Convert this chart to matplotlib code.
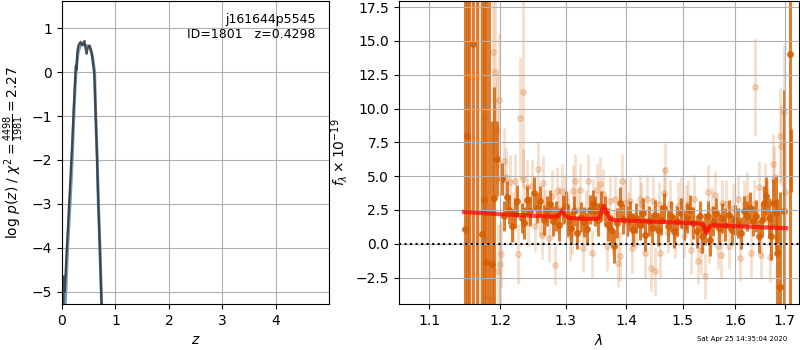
import matplotlib
matplotlib.use('Agg')
import matplotlib.pyplot as plt

# p(z) curve (left panel)
z_pz = [0.00, 0.02, 0.03, 0.04, 0.05, 0.07, 0.09, 0.11, 0.13, 0.15, 0.17, 0.19, 0.21, 0.23,
        0.25, 0.26, 0.27, 0.29, 0.31, 0.33, 0.35, 0.37, 0.39, 0.40, 0.42, 0.44, 0.46, 0.48,
        0.50, 0.52, 0.54, 0.56, 0.58, 0.60, 0.61, 0.63, 0.65, 0.67, 0.69, 0.71, 0.73, 0.75]
logp = [-6.5, -6.0, -4.65, -4.7, -5.0, -4.5, -4.0, -3.55, -3.05, -2.6, -2.1, -1.65, -1.1, -0.55,
        -0.05, 0.15, 0.05, 0.5, 0.62, 0.66, 0.69, 0.62, 0.66, 0.64, 0.71, 0.54, 0.42, 0.55,
        0.58, 0.6, 0.5, 0.42, 0.2, 0.0, -0.2, -0.95, -1.75, -2.6, -3.35, -4.1, -4.9, -5.7]
z_smooth = [0.04, 0.07, 0.10, 0.15, 0.19, 0.22, 0.26, 0.30, 0.34, 0.38, 0.42, 0.46, 0.50,
            0.54, 0.58, 0.61, 0.63, 0.66, 0.68, 0.71, 0.74, 0.76]
logp_smooth = [-5.8, -5.0, -4.1, -3.0, -2.0, -1.0, 0.0, 0.45, 0.6, 0.62, 0.62, 0.6, 0.6,
               0.5, 0.28, 0.0, -1.0, -2.0, -3.0, -4.0, -5.27, -6.0]

# spectrum, first beam (strong)
wave_a = [1.1490, 1.1525, 1.1555, 1.1607, 1.1660, 1.1728, 1.1765, 1.1790, 1.1840, 1.1880,
          1.1905, 1.1946, 1.2031, 1.2054, 1.2103, 1.2127, 1.2175, 1.2220, 1.2255, 1.2318,
          1.2350, 1.2398, 1.2445, 1.2508, 1.2556, 1.2605, 1.2655, 1.2703, 1.2752, 1.2802,
          1.2851, 1.2900, 1.2951, 1.3000, 1.3036, 1.3087, 1.3137, 1.3188, 1.3240, 1.3290,
          1.3340, 1.3390, 1.3445, 1.3480, 1.3530, 1.3580, 1.3640, 1.3690, 1.3740, 1.3790,
          1.3840, 1.3890, 1.3950, 1.4007, 1.4064, 1.4120, 1.4177, 1.4235, 1.4290, 1.4330,
          1.4390, 1.4445, 1.4500, 1.4560, 1.4617, 1.4670, 1.4730, 1.4790, 1.4847, 1.4905,
          1.4964, 1.5022, 1.5080, 1.5140, 1.5200, 1.5260, 1.5320, 1.5365, 1.5425, 1.5470,
          1.5510, 1.5570, 1.5630, 1.5690, 1.5750, 1.5810, 1.5870, 1.5930, 1.5990, 1.6050,
          1.6110, 1.6170, 1.6230, 1.6290, 1.6355, 1.6415, 1.6480, 1.6540, 1.6570, 1.6620,
          1.6670, 1.6720, 1.6760, 1.6810, 1.6850, 1.6900, 1.6985, 1.7105]
flux_a = [1.1, 8.0, -7.0, 14.8, -8.0, 0.7, 3.2, -1.35, -9.0, -1.5,
          3.4, 6.3, 4.8, 2.03, 3.47, 2.53, 1.34, 2.28, 3.15, 1.90,
          1.54, 3.20, 2.40, 3.77, 2.65, 3.15, 1.78, 2.40, 2.90, 1.66,
          2.03, 1.41, 2.53, 2.82, 1.66, 1.16, 2.40, 0.79, 1.98, 1.58,
          1.09, 2.53, 2.90, 2.40, 1.78, 2.78, 2.40, 1.41, 1.04, -0.20,
          1.54, 3.00, 1.80, 1.66, 2.03, 1.04, 1.90, 1.41, 2.28, 0.67,
          1.66, 1.16, 2.15, 1.04, 1.78, 2.65, 1.29, 2.03, 0.91, 1.66,
          2.28, 1.34, 1.90, 2.53, 1.54, 0.91, 2.03, 0.54, 1.09, 2.03,
          0.29, 1.66, 2.28, 1.16, 1.90, 1.41, 2.15, 1.04, 1.78, 1.54,
          0.79, 2.40, 2.03, 2.65, 1.66, 2.03, 0.54, 1.78, 3.00, 3.50,
          1.90, 0.60, 3.00, 2.30, -0.70, -3.20, 2.40, 14.0]
err_a = [30, 30, 30, 30, 30, 30, 30, 30, 30, 10.6,
         8.2, 2.8, 1.2, 1.1, 1.2, 1.1, 1.2, 1.1, 1.2, 1.1,
         1.2, 1.1, 1.1, 1.2, 1.1, 1.1, 1.1, 1.1, 1.1, 1.1,
         1.1, 1.2, 1.1, 1.1, 1.1, 1.2, 1.1, 1.2, 1.1, 1.1,
         1.2, 1.1, 1.1, 1.1, 1.2, 1.1, 1.1, 1.2, 1.1, 1.2,
         1.1, 1.2, 1.1, 1.1, 1.1, 1.2, 1.1, 1.1, 1.1, 1.2,
         1.1, 1.1, 1.1, 1.2, 1.1, 1.1, 1.2, 1.1, 1.2, 1.1,
         1.1, 1.1, 1.1, 1.1, 1.2, 1.2, 1.1, 1.2, 1.2, 1.1,
         1.2, 1.1, 1.1, 1.1, 1.1, 1.2, 1.1, 1.1, 1.1, 1.1,
         1.2, 1.1, 1.1, 1.2, 1.1, 1.2, 1.2, 1.3, 1.3, 1.4,
         1.5, 1.8, 1.8, 2.8, 4.0, 7.0, 9.0, 25.0]

# last strong-beam bar, drawn without its marker
edge_wave = [1.7135]
edge_flux = [6.15]
edge_err = [2.35]

# spectrum, second beam (faint)
wave_b = [1.1560, 1.1690, 1.1780, 1.1840, 1.1895, 1.1925, 1.1950, 1.1965, 1.1975, 1.1990,
          1.2010, 1.2060, 1.2085, 1.2144, 1.2190, 1.2217, 1.2257, 1.2298, 1.2331, 1.2342,
          1.2392, 1.2416, 1.2477, 1.2519, 1.2561, 1.2600, 1.2622, 1.2647, 1.2674, 1.2741,
          1.2779, 1.2830, 1.2857, 1.2900, 1.2936, 1.2989, 1.3030, 1.3068, 1.3096, 1.3122,
          1.3149, 1.3190, 1.3230, 1.3283, 1.3320, 1.3365, 1.3421, 1.3447, 1.3503, 1.3558,
          1.3612, 1.3669, 1.3725, 1.3770, 1.3809, 1.3860, 1.3894, 1.3923, 1.3979, 1.4030,
          1.4060, 1.4100, 1.4170, 1.4235, 1.4260, 1.4330, 1.4370, 1.4430, 1.4460, 1.4510,
          1.4570, 1.4600, 1.4660, 1.4690, 1.4740, 1.4780, 1.4860, 1.4915, 1.4970, 1.5020,
          1.5070, 1.5110, 1.5160, 1.5220, 1.5280, 1.5350, 1.5425, 1.5470, 1.5500, 1.5550,
          1.5610, 1.5670, 1.5730, 1.5750, 1.5820, 1.5880, 1.5960, 1.6050, 1.6090, 1.6170,
          1.6230, 1.6310, 1.6380, 1.6390, 1.6480, 1.6510, 1.6600, 1.6640, 1.6700, 1.6750,
          1.6780, 1.6840, 1.6880, 1.6900, 1.6930, 1.6985, 1.7000]
flux_b = [-5.0, 20.0, 9.3, -4.0, 14.2, 12.7, 8.4, -2.05, 10.6, -1.5,
          -0.75, 6.1, 4.9, 4.56, 2.0, 4.65, -0.76, 9.3, 4.8, 11.2,
          4.2, 1.66, 4.3, 1.29, 5.55, 2.2, 0.67, 4.5, 2.28, 0.42,
          3.52, -1.56, 3.89, 2.6, 3.89, 3.27, 2.2, 0.54, 0.92, 3.89,
          4.63, 2.5, 4.0, -0.32, 2.4, 4.63, -0.69, 3.07, 4.0, 4.38,
          3.64, -0.2, 3.15, 0.9, 3.27, -1.4, -0.94, 4.63, 3.0, 2.2,
          3.15, -0.33, 1.3, 3.3, 2.9, -0.7, 3.3, -1.8, 3.15, -2.05,
          2.9, -0.7, 3.77, 5.43, 0.9, 2.9, 0.67, 2.78, 3.15, 0.6,
          2.65, 2.9, -0.45, 3.3, -1.3, -0.45, -2.4, 3.84, 0.29, 2.53,
          3.6, -0.2, -0.82, 3.0, 2.9, -0.2, 2.65, 3.3, -1.07, 2.9,
          3.4, -0.7, 2.9, 11.58, 4.2, -0.82, 4.0, 2.9, -0.95, 5.93,
          4.75, 0.5, -3.2, 7.98, 7.24, 9.73, 3.8]
err_b = [25, 25, 12, 6.0, 8.0, 6.0, 4.0, 3.5, 5.0, 3.0,
         2.5, 2.5, 2.2, 2.0, 1.8, 2.0, 2.2, 4.5, 2.2, 7.0,
         2.0, 1.8, 2.0, 1.8, 2.0, 1.6, 1.8, 2.0, 1.7, 1.8,
         1.9, 1.5, 1.8, 1.7, 2.0, 1.8, 1.6, 1.8, 1.7, 1.9,
         2.0, 1.6, 1.9, 1.8, 1.6, 2.0, 1.8, 1.7, 1.9, 2.0,
         1.9, 1.8, 1.8, 1.7, 1.8, 1.8, 1.8, 2.0, 1.8, 1.6,
         1.8, 1.8, 1.6, 1.8, 1.7, 1.8, 1.8, 1.7, 1.8, 1.8,
         1.7, 1.8, 1.9, 2.0, 1.6, 1.8, 1.7, 1.8, 1.8, 1.6,
         1.7, 1.8, 1.8, 1.8, 1.7, 1.8, 1.7, 2.0, 1.7, 1.7,
         1.8, 1.7, 1.8, 1.7, 1.8, 1.7, 1.8, 1.8, 1.7, 1.8,
         1.9, 1.8, 1.8, 3.6, 1.9, 1.8, 2.0, 1.8, 1.9, 2.2,
         2.5, 2.8, 3.0, 3.5, 3.0, 5.0, 3.5]

# best-fit model
model_wave = [1.148, 1.20, 1.25, 1.285, 1.290, 1.294, 1.298, 1.305, 1.32, 1.35, 1.355,
              1.359, 1.362, 1.366, 1.372, 1.38, 1.42, 1.46, 1.50, 1.53, 1.539, 1.542,
              1.545, 1.548, 1.552, 1.56, 1.60, 1.65, 1.703]
model_flux = [2.35, 2.18, 2.06, 2.0, 2.15, 2.38, 2.15, 1.92, 1.86, 1.83, 1.95,
              2.5, 2.78, 2.4, 1.85, 1.75, 1.68, 1.62, 1.55, 1.5, 1.42, 1.05,
              0.78, 1.05, 1.35, 1.36, 1.3, 1.22, 1.15]

g141_color = (0.835, 0.369, 0.0)

fig = plt.figure(figsize=(8, 3.5), dpi=100)
ax1 = fig.add_axes([0.0775, 0.1314, 0.3334, 0.8657])
ax2 = fig.add_axes([0.49875, 0.1314, 0.5, 0.8657])

# left: redshift PDF
ax1.plot(z_smooth, logp_smooth, color='#5f93c0', lw=2.2, alpha=0.9)
ax1.plot(z_pz, logp, color='#333333', lw=1.6, alpha=0.85)
ax1.set_xlim(0, 4.99)
ax1.set_ylim(-5.28, 1.62)
ax1.set_xticks([0, 1, 2, 3, 4])
ax1.set_yticks([-5, -4, -3, -2, -1, 0, 1])
ax1.grid()
ax1.set_xlabel(r'$z$')
ax1.set_ylabel(r'log $p(z)$ / $\chi^2=\frac{4498}{1981}=2.27$')
ax1.text(0.95, 0.96, 'j161644p5545\nID=1801   z=0.4298', ha='right', va='top',
         transform=ax1.transAxes, fontsize=9)

# right: spectrum
ax2.errorbar(wave_b, flux_b, yerr=err_b, color=g141_color, alpha=0.2, marker='o',
             markersize=4, linestyle='None', elinewidth=2, zorder=1)
ax2.errorbar(wave_a, flux_a, yerr=err_a, color=g141_color, alpha=0.8, marker='o',
             markersize=4, linestyle='None', elinewidth=2.2, zorder=1)
ax2.errorbar(edge_wave, edge_flux, yerr=edge_err, color=g141_color, alpha=0.8,
             marker='None', linestyle='None', elinewidth=2.2, zorder=1)
ax2.plot(model_wave, model_flux, color='r', alpha=0.7, lw=3, zorder=3)
ax2.axhline(0, color='k', linestyle=':', lw=1.5, zorder=3)

ax2.set_xscale('log')
ax2.set_xlim(1.06, 1.73)
ax2.set_ylim(-4.46, 17.95)
ax2.set_xticks([1.1, 1.2, 1.3, 1.4, 1.5, 1.6, 1.7])
ax2.set_xticklabels(['1.1', '1.2', '1.3', '1.4', '1.5', '1.6', '1.7'])
ax2.minorticks_off()
ax2.set_yticks([-2.5, 0.0, 2.5, 5.0, 7.5, 10.0, 12.5, 15.0, 17.5])
ax2.grid()
ax2.set_xlabel(r'$\lambda$')
ax2.set_ylabel(r'$f_\lambda \times 10^{-19}$')

fig.text(0.984, 0.022, 'Sat Apr 25 14:35:04 2020', ha='right', va='bottom', fontsize=5)

fig.savefig('out.png', dpi=100)
